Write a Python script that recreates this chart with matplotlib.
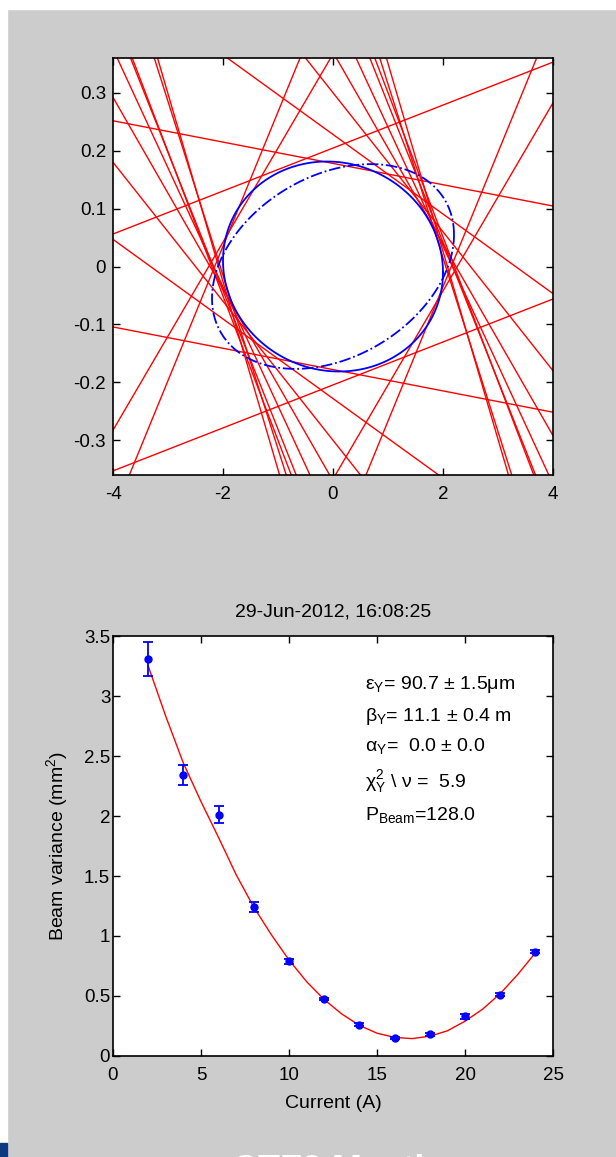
import numpy as np
import matplotlib
matplotlib.use("Agg")
import matplotlib.pyplot as plt
from matplotlib.patches import Rectangle
from matplotlib.ticker import FuncFormatter

plt.rcParams['font.family'] = ['Liberation Sans', 'DejaVu Sans']
plt.rcParams['mathtext.fontset'] = 'custom'
plt.rcParams['mathtext.rm'] = 'Liberation Sans'
plt.rcParams['mathtext.it'] = 'Liberation Sans:italic'
plt.rcParams['mathtext.bf'] = 'Liberation Sans:bold'
plt.rcParams['axes.unicode_minus'] = False

# phase space: one pair of lines y = s*x +/- c per measurement
line_slope = [-0.2054, -0.239, -0.249, -0.300, -0.3244, 0.232,
              0.1624, -0.1655, -0.12, -0.0687, 0.0371, -0.0184]
line_offset = [0.446, 0.520, 0.549, 0.615, 0.675, 0.499,
               0.367, 0.370, 0.30, 0.228, 0.2045, 0.178]

# ellipses: fitted (solid) and second one (dash-dot)
ell_halfwidth = [2.0, 2.2]
ell_halfheight = [0.181, 0.168]
ell_shear = [-0.005, 0.025]
ell_style = ['-', '-.']

# quad scan measurement
current = [2, 4, 6, 8, 10, 12, 14, 16, 18, 20, 22, 24]
variance = [3.31, 2.34, 2.01, 1.24, 0.79, 0.475, 0.26, 0.15, 0.18, 0.33, 0.51, 0.87]
variance_err = [0.14, 0.085, 0.07, 0.04, 0.02, 0.012, 0.012, 0.012, 0.012, 0.02, 0.012, 0.012]

# fitted curve read at each amp
fit_current = list(range(2, 25))
fit_variance = [3.25, 2.83, 2.44, 2.12, 1.82, 1.51, 1.24, 1.01, 0.80, 0.62, 0.47, 0.35,
                0.255, 0.19, 0.155, 0.145, 0.165, 0.21, 0.29, 0.39, 0.52, 0.68, 0.86]

fit_text = [r'ε$_{\rm Y}$= 90.7 ± 1.5μm',
            r'β$_{\rm Y}$= 11.1 ± 0.4 m',
            r'α$_{\rm Y}$=  0.0 ± 0.0',
            r'χ$^2_{\rm Y}$ \ ν =  5.9',
            r'P$_{\rm Beam}$=128.0']
fit_text_y = [3.058, 2.792, 2.542, 2.242, 1.967]

W, H = 616, 1157
fig = plt.figure(figsize=(W / 100, H / 100), dpi=100, facecolor='#cccccc')

# white margins and the little blue slide corner
fig.patches.append(Rectangle((0, 0), 7 / W, 1, transform=fig.transFigure,
                             color='white', zorder=-1))
fig.patches.append(Rectangle((0, 1 - 9 / H), 1, 9 / H, transform=fig.transFigure,
                             color='white', zorder=-1))
fig.patches.append(Rectangle((0, 0), 7 / W, 14 / H, transform=fig.transFigure,
                             color='#0b3a82', zorder=0))

fmt = FuncFormatter(lambda v, p: '%g' % round(v, 3))
TICK = 13.5
LAB = 14

# top: phase space
ax1 = fig.add_axes([113 / W, 1 - 475 / H, 440 / W, 417 / H])
for s, c in zip(line_slope, line_offset):
    ax1.axline((0, c), slope=s, color='red', lw=1)
    ax1.axline((0, -c), slope=s, color='red', lw=1)

t = np.linspace(0, 2 * np.pi, 300)
for a, b, m, ls in zip(ell_halfwidth, ell_halfheight, ell_shear, ell_style):
    ax1.plot(a * np.cos(t), m * a * np.cos(t) + b * np.sin(t), color='blue',
             ls=ls, lw=1.3)

ax1.set_xlim(-4, 4)
ax1.set_ylim(-0.36, 0.36)
ax1.set_xticks([-4, -2, 0, 2, 4])
ax1.set_yticks([-0.3, -0.2, -0.1, 0, 0.1, 0.2, 0.3])
ax1.yaxis.set_major_formatter(fmt)
ax1.tick_params(direction='in', top=True, right=True, length=5, width=1,
                labelsize=TICK)
ax1.tick_params(axis='x', pad=8)
ax1.tick_params(axis='y', pad=5)

# bottom: beam variance vs current
ax2 = fig.add_axes([113 / W, 1 - 1056 / H, 440 / W, 420 / H])
ax2.plot(fit_current, fit_variance, color='red', lw=1)
ax2.errorbar(current, variance, yerr=variance_err, fmt='o', color='blue',
             ms=5, capsize=3.5, elinewidth=1.3, capthick=1.3)
for txt, ty in zip(fit_text, fit_text_y):
    ax2.text(14.32, ty, txt, fontsize=LAB, va='baseline', ha='left')

ax2.set_xlim(0, 25)
ax2.set_ylim(0, 3.5)
ax2.set_xticks([0, 5, 10, 15, 20, 25])
ax2.set_yticks([0, 0.5, 1, 1.5, 2, 2.5, 3, 3.5])
ax2.yaxis.set_major_formatter(fmt)
ax2.tick_params(direction='in', top=True, right=True, length=5, width=1,
                labelsize=TICK)
ax2.tick_params(axis='x', pad=8)
ax2.tick_params(axis='y', pad=2)

for ax in (ax1, ax2):
    for sp in ax.spines.values():
        sp.set_linewidth(1.2)

fig.text(333 / W, 1 - 612 / H, '29-Jun-2012, 16:08:25', fontsize=LAB,
         ha='center', va='center')
fig.text(333 / W, 1 - 1103 / H, 'Current (A)', fontsize=LAB,
         ha='center', va='center')
fig.text(57 / W, 1 - 846 / H, 'Beam variance (mm$^2$)', fontsize=LAB,
         ha='center', va='center', rotation=90)

# slide footer, cut off by the page edge as on the slide
fig.text(350 / W, 1 - 1154 / H, 'CTF3 Meeting', fontsize=26, color='white',
         fontweight='bold', ha='center', va='top')

fig.savefig('out.png', dpi=100, facecolor=fig.get_facecolor())
